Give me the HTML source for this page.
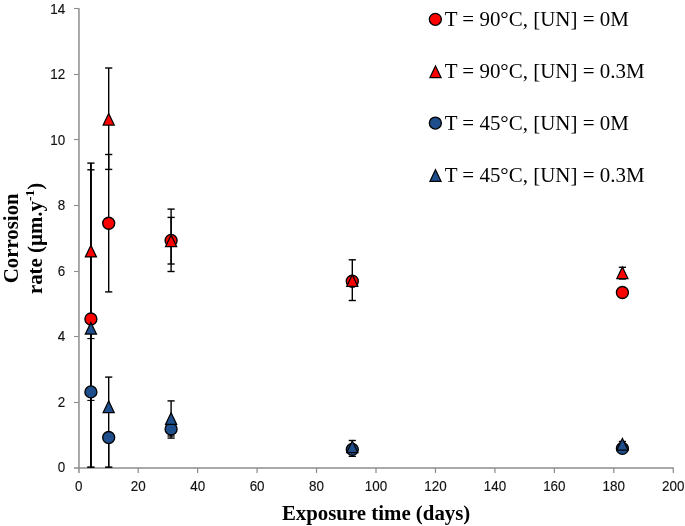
<!DOCTYPE html>
<html lang="en"><head><meta charset="utf-8"><title>Corrosion rate vs exposure time</title>
<style>
html,body{margin:0;padding:0;background:#fff;}
body{width:685px;height:526px;overflow:hidden;}
svg{display:block;will-change:transform;}
.tick{font-family:"Liberation Sans",sans-serif;font-size:14.6px;fill:#111;stroke:#111;stroke-width:.15px;}
.ttl{font-family:"Liberation Serif",serif;font-weight:bold;font-size:20.85px;fill:#000;}
.leg{font-family:"Liberation Serif",serif;font-size:20.96px;fill:#000;}
.eb{stroke:#000;stroke-width:1.4;fill:none;}
.mk{stroke:#000;stroke-width:1.35;}
.mt{stroke:#000;stroke-width:1.25;stroke-linejoin:miter;stroke-miterlimit:10;}
</style></head><body>
<svg width="685" height="526" viewBox="0 0 685 526">
<rect width="685" height="526" fill="#fff"/>
<g stroke="#8c8c8c" stroke-width="1.5" fill="none">
<line x1="78.95" y1="8.3" x2="78.95" y2="472.9"/>
<line x1="74.0" y1="468.0" x2="673.8" y2="468.0"/>
<line x1="74.0" y1="402.50" x2="78.95" y2="402.50" stroke-width="1.1"/>
<line x1="74.0" y1="336.50" x2="78.95" y2="336.50" stroke-width="1.1"/>
<line x1="74.0" y1="271.50" x2="78.95" y2="271.50" stroke-width="1.1"/>
<line x1="74.0" y1="205.50" x2="78.95" y2="205.50" stroke-width="1.1"/>
<line x1="74.0" y1="139.50" x2="78.95" y2="139.50" stroke-width="1.1"/>
<line x1="74.0" y1="74.50" x2="78.95" y2="74.50" stroke-width="1.1"/>
<line x1="74.0" y1="8.50" x2="78.95" y2="8.50" stroke-width="1.1"/>
<line x1="138.20" y1="468.0" x2="138.20" y2="472.9" stroke-width="1.25"/>
<line x1="197.65" y1="468.0" x2="197.65" y2="472.9" stroke-width="1.25"/>
<line x1="257.10" y1="468.0" x2="257.10" y2="472.9" stroke-width="1.25"/>
<line x1="316.55" y1="468.0" x2="316.55" y2="472.9" stroke-width="1.25"/>
<line x1="376.00" y1="468.0" x2="376.00" y2="472.9" stroke-width="1.25"/>
<line x1="435.45" y1="468.0" x2="435.45" y2="472.9" stroke-width="1.25"/>
<line x1="494.90" y1="468.0" x2="494.90" y2="472.9" stroke-width="1.25"/>
<line x1="554.35" y1="468.0" x2="554.35" y2="472.9" stroke-width="1.25"/>
<line x1="613.80" y1="468.0" x2="613.80" y2="472.9" stroke-width="1.25"/>
<line x1="673.25" y1="468.0" x2="673.25" y2="472.9" stroke-width="1.25"/>
</g>
<g class="tick" text-anchor="end">
<text transform="translate(65.1 472.30) scale(0.92 1)">0</text>
<text transform="translate(65.1 406.82) scale(0.92 1)">2</text>
<text transform="translate(65.1 341.34) scale(0.92 1)">4</text>
<text transform="translate(65.1 275.86) scale(0.92 1)">6</text>
<text transform="translate(65.1 210.38) scale(0.92 1)">8</text>
<text transform="translate(65.1 144.90) scale(0.92 1)">10</text>
<text transform="translate(65.1 79.42) scale(0.92 1)">12</text>
<text transform="translate(65.1 13.94) scale(0.92 1)">14</text>
</g>
<g class="tick" text-anchor="middle">
<text transform="translate(78.75 491.25) scale(0.92 1)">0</text>
<text transform="translate(138.20 491.25) scale(0.92 1)">20</text>
<text transform="translate(197.65 491.25) scale(0.92 1)">40</text>
<text transform="translate(257.10 491.25) scale(0.92 1)">60</text>
<text transform="translate(316.55 491.25) scale(0.92 1)">80</text>
<text transform="translate(376.00 491.25) scale(0.92 1)">100</text>
<text transform="translate(435.45 491.25) scale(0.92 1)">120</text>
<text transform="translate(494.90 491.25) scale(0.92 1)">140</text>
<text transform="translate(554.35 491.25) scale(0.92 1)">160</text>
<text transform="translate(613.80 491.25) scale(0.92 1)">180</text>
<text transform="translate(673.25 491.25) scale(0.92 1)">200</text>
</g>
<g class="eb">
<line x1="90.9" y1="163.1" x2="90.9" y2="467.6" stroke-width="1.65"/>
<line x1="90.9" y1="163.1" x2="90.9" y2="467.6"/>
<line x1="87.3" y1="163.1" x2="94.5" y2="163.1"/>
<line x1="87.3" y1="467.15" x2="94.5" y2="467.15" stroke-width="1.1"/>
<line x1="90.9" y1="169.8" x2="90.9" y2="467.6"/>
<line x1="87.3" y1="169.8" x2="94.5" y2="169.8"/>
<line x1="87.3" y1="467.15" x2="94.5" y2="467.15" stroke-width="1.1"/>
<line x1="87.3" y1="338.6" x2="94.5" y2="338.6" stroke-width="1.1"/>
<line x1="87.3" y1="400.4" x2="94.5" y2="400.4" stroke-width="1.1"/>
<line x1="108.7" y1="68.0" x2="108.7" y2="169.4"/>
<line x1="105.1" y1="68.0" x2="112.3" y2="68.0"/>
<line x1="105.1" y1="169.4" x2="112.3" y2="169.4"/>
<line x1="108.7" y1="154.5" x2="108.7" y2="291.9"/>
<line x1="105.1" y1="154.5" x2="112.3" y2="154.5"/>
<line x1="105.1" y1="291.9" x2="112.3" y2="291.9"/>
<line x1="108.7" y1="377.1" x2="108.7" y2="467.6"/>
<line x1="105.1" y1="377.1" x2="112.3" y2="377.1"/>
<line x1="105.1" y1="467.15" x2="112.3" y2="467.15" stroke-width="1.1"/>
<line x1="108.7" y1="437.5" x2="108.7" y2="467.6"/>
<line x1="105.1" y1="437.5" x2="112.3" y2="437.5"/>
<line x1="105.1" y1="467.15" x2="112.3" y2="467.15" stroke-width="1.1"/>
<line x1="171.1" y1="209.1" x2="171.1" y2="271.5"/>
<line x1="167.5" y1="209.1" x2="174.7" y2="209.1"/>
<line x1="167.5" y1="271.5" x2="174.7" y2="271.5"/>
<line x1="171.1" y1="217.4" x2="171.1" y2="264.0"/>
<line x1="167.5" y1="217.4" x2="174.7" y2="217.4"/>
<line x1="167.5" y1="264.0" x2="174.7" y2="264.0"/>
<line x1="171.1" y1="400.9" x2="171.1" y2="438.1"/>
<line x1="167.5" y1="400.9" x2="174.7" y2="400.9"/>
<line x1="167.5" y1="438.1" x2="174.7" y2="438.1"/>
<line x1="171.1" y1="420.0" x2="171.1" y2="436.0"/>
<line x1="167.5" y1="420.0" x2="174.7" y2="420.0"/>
<line x1="167.5" y1="436.0" x2="174.7" y2="436.0"/>
<line x1="352.3" y1="259.8" x2="352.3" y2="300.5"/>
<line x1="348.7" y1="259.8" x2="355.9" y2="259.8"/>
<line x1="348.7" y1="300.5" x2="355.9" y2="300.5"/>
<line x1="352.3" y1="440.5" x2="352.3" y2="456.3"/>
<line x1="348.7" y1="440.5" x2="355.9" y2="440.5"/>
<line x1="348.7" y1="456.3" x2="355.9" y2="456.3"/>
<line x1="622.4" y1="267.3" x2="622.4" y2="279.0"/>
<line x1="618.8" y1="267.3" x2="626.0" y2="267.3"/>
<line x1="618.8" y1="279.0" x2="626.0" y2="279.0"/>
<line x1="622.4" y1="441.5" x2="622.4" y2="452.0"/>
<line x1="618.8" y1="441.5" x2="626.0" y2="441.5"/>
<line x1="618.8" y1="452.0" x2="626.0" y2="452.0"/>
</g>
<circle class="mk" cx="90.9" cy="319.0" r="6.0" fill="#ff0000"/>
<circle class="mk" cx="108.7" cy="223.2" r="6.0" fill="#ff0000"/>
<circle class="mk" cx="171.1" cy="240.4" r="6.0" fill="#ff0000"/>
<circle class="mk" cx="352.3" cy="281.2" r="6.0" fill="#ff0000"/>
<circle class="mk" cx="622.4" cy="292.5" r="6.0" fill="#ff0000"/>
<path class="mt" d="M90.9 245.30 L96.45 256.90 L85.35 256.90 Z" fill="#ff0000"/>
<path class="mt" d="M108.7 113.40 L114.25 125.00 L103.15 125.00 Z" fill="#ff0000"/>
<path class="mt" d="M171.1 235.10 L176.65 246.70 L165.55 246.70 Z" fill="#ff0000"/>
<path class="mt" d="M352.3 274.80 L357.85 286.40 L346.75 286.40 Z" fill="#ff0000"/>
<path class="mt" d="M622.4 266.90 L627.95 278.50 L616.85 278.50 Z" fill="#ff0000"/>
<circle class="mk" cx="90.9" cy="391.9" r="6.0" fill="#1f4e8c"/>
<circle class="mk" cx="108.7" cy="437.5" r="6.0" fill="#1f4e8c"/>
<circle class="mk" cx="171.1" cy="429.0" r="6.0" fill="#1f4e8c"/>
<circle class="mk" cx="352.3" cy="449.4" r="6.0" fill="#1f4e8c"/>
<circle class="mk" cx="622.4" cy="448.4" r="6.0" fill="#1f4e8c"/>
<path class="mt" d="M90.9 322.50 L96.45 334.10 L85.35 334.10 Z" fill="#1f4e8c"/>
<path class="mt" d="M108.7 401.00 L114.25 412.60 L103.15 412.60 Z" fill="#1f4e8c"/>
<path class="mt" d="M171.1 412.80 L176.65 424.40 L165.55 424.40 Z" fill="#1f4e8c"/>
<path class="mt" d="M352.3 440.90 L357.85 452.50 L346.75 452.50 Z" fill="#1f4e8c"/>
<path class="mt" d="M622.4 438.50 L627.95 450.10 L616.85 450.10 Z" fill="#1f4e8c"/>
<circle class="mk" cx="435.35" cy="19.35" r="6.0" fill="#ff0000"/>
<text class="leg" x="444.7" y="26.2">T = 90°C, [UN] = 0M</text>
<path class="mt" d="M435.5 65.95 L441.05 77.55 L429.95 77.55 Z" fill="#ff0000"/>
<text class="leg" x="444.7" y="78.0">T = 90°C, [UN] = 0.3M</text>
<circle class="mk" cx="435.35" cy="123.05" r="6.0" fill="#1f4e8c"/>
<text class="leg" x="444.7" y="129.9">T = 45°C, [UN] = 0M</text>
<path class="mt" d="M435.5 169.65 L441.05 181.25 L429.95 181.25 Z" fill="#1f4e8c"/>
<text class="leg" x="444.7" y="181.7">T = 45°C, [UN] = 0.3M</text>
<text class="ttl" x="376.1" y="519.6" text-anchor="middle">Exposure time (days)</text>
<text class="ttl" transform="translate(17.6 238.3) rotate(-90)" text-anchor="middle">Corrosion</text>
<text class="ttl" transform="translate(41.6 238.5) rotate(-90)" text-anchor="middle">rate (µm.y<tspan font-size="13.5px" dy="-8">-1</tspan><tspan dy="8">)</tspan></text>
</svg></body></html>
